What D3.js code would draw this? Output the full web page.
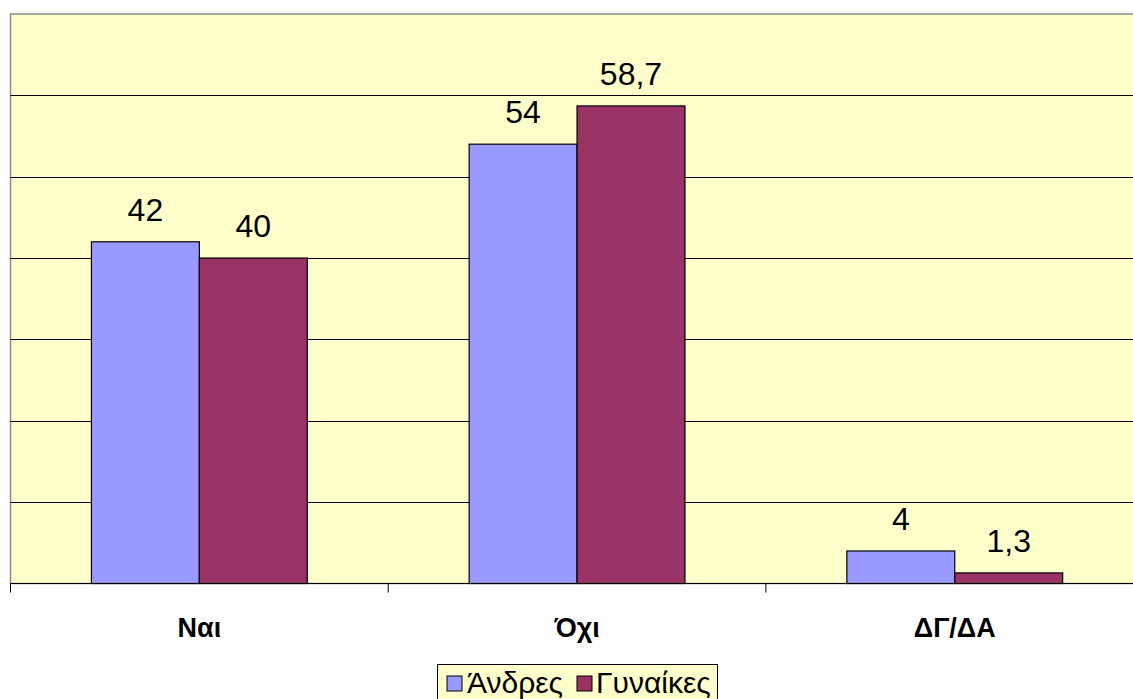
<!DOCTYPE html>
<html lang="el">
<head>
<meta charset="UTF-8">
<title>Ναι / Όχι ανά φύλο</title>
<style>
  body { margin: 0; background: #fff; }
  svg text { font-family: "Liberation Sans", Arial, sans-serif; }
</style>
</head>
<body>
<svg id="chart" width="1133" height="699"></svg>
<script src="https://d3js.org/d3.v7.min.js"></script>
<script>
// data
var categories = ["Ναι", "Όχι", "ΔΓ/ΔΑ"];
var seriesNames = ["Άνδρες", "Γυναίκες"];
var andres = [42, 54, 4];
var gynaikes = [40, 58.7, 1.3];
var labelsAndres = ["42", "54", "4"];
var labelsGynaikes = ["40", "58,7", "1,3"];
var yTicks = [0, 10, 20, 30, 40, 50, 60, 70];

var colors = ["#9999FF", "#993366"];

var svg = d3.select("#chart");

// plot area
var plotLeft = 10.5, plotTop = 14, plotBottom = 583.5;
var bandW = 377.7;
var plotRight = plotLeft + bandW * categories.length;

var x = d3.scaleBand()
    .domain(categories)
    .range([plotLeft, plotRight])
    .padding(0);

var y = d3.scaleLinear()
    .domain([0, 70])
    .range([plotBottom, plotTop]);

// background
svg.append("rect")
    .attr("x", plotLeft)
    .attr("y", plotTop)
    .attr("width", plotRight - plotLeft)
    .attr("height", plotBottom - plotTop)
    .attr("fill", "#FFFFCC")
    .attr("stroke", "#8c8c8c")
    .attr("stroke-width", 1.5);

// gridlines
svg.selectAll(".grid")
    .data(yTicks.slice(1, -1))
    .enter()
    .append("line")
    .attr("x1", plotLeft)
    .attr("x2", plotRight)
    .attr("y1", function (d) { return Math.round(y(d)) + 0.5; })
    .attr("y2", function (d) { return Math.round(y(d)) + 0.5; })
    .attr("stroke", "#000")
    .attr("stroke-width", 1);

// bars: gap width 150% -> bar = band / 3.5
var barW = x.bandwidth() / 3.5;
var x1 = d3.scaleBand()
    .domain(seriesNames)
    .range([barW * 0.75, barW * 2.75]);

var rows = categories.map(function (c, i) {
    return [
        { cat: c, s: seriesNames[0], v: andres[i], label: labelsAndres[i] },
        { cat: c, s: seriesNames[1], v: gynaikes[i], label: labelsGynaikes[i] }
    ];
});

var groups = svg.selectAll(".grp")
    .data(rows)
    .enter()
    .append("g")
    .attr("transform", function (d) { return "translate(" + x(d[0].cat) + ",0)"; });

groups.selectAll("rect")
    .data(function (d) { return d; })
    .enter()
    .append("rect")
    .attr("x", function (d) { return x1(d.s); })
    .attr("y", function (d) { return y(d.v); })
    .attr("width", x1.bandwidth())
    .attr("height", function (d) { return plotBottom - y(d.v); })
    .attr("fill", function (d, i) { return colors[i]; })
    .attr("stroke", "#000")
    .attr("stroke-width", 1.2);

// value labels
groups.selectAll("text")
    .data(function (d) { return d; })
    .enter()
    .append("text")
    .attr("x", function (d) { return x1(d.s) + x1.bandwidth() / 2; })
    .attr("y", function (d) { return y(d.v) - 21; })
    .attr("text-anchor", "middle")
    .style("font-size", "32px")
    .attr("fill", "#000")
    .text(function (d) { return d.label; });

// category axis
svg.append("line")
    .attr("x1", plotLeft).attr("x2", plotRight)
    .attr("y1", plotBottom).attr("y2", plotBottom)
    .attr("stroke", "#000").attr("stroke-width", 1.2);

svg.selectAll(".tick")
    .data(d3.range(categories.length + 1))
    .enter()
    .append("line")
    .attr("x1", function (i) { return plotLeft + i * x.bandwidth(); })
    .attr("x2", function (i) { return plotLeft + i * x.bandwidth(); })
    .attr("y1", plotBottom)
    .attr("y2", plotBottom + 9)
    .attr("stroke", "#000");

svg.selectAll(".cat")
    .data(categories)
    .enter()
    .append("text")
    .attr("x", function (d) { return x(d) + x.bandwidth() / 2; })
    .attr("y", 637)
    .attr("text-anchor", "middle")
    .style("font-size", "27px")
    .style("font-weight", "bold")
    .text(function (d) { return d; });

// legend
var legend = svg.append("g");
legend.append("rect")
    .attr("x", 437.5).attr("y", 664.5)
    .attr("width", 280).attr("height", 50)
    .attr("fill", "#FFFFCC")
    .attr("stroke", "#000");

var legX = [447, 577];
var legTextX = [467, 596];
seriesNames.forEach(function (s, i) {
    legend.append("rect")
        .attr("x", legX[i]).attr("y", 676)
        .attr("width", 15).attr("height", 15)
        .attr("fill", colors[i])
        .attr("stroke", "#000");
    legend.append("text")
        .attr("x", legTextX[i])
        .attr("y", 693)
        .style("font-size", "30px")
        .text(s);
});
</script>
</body>
</html>
